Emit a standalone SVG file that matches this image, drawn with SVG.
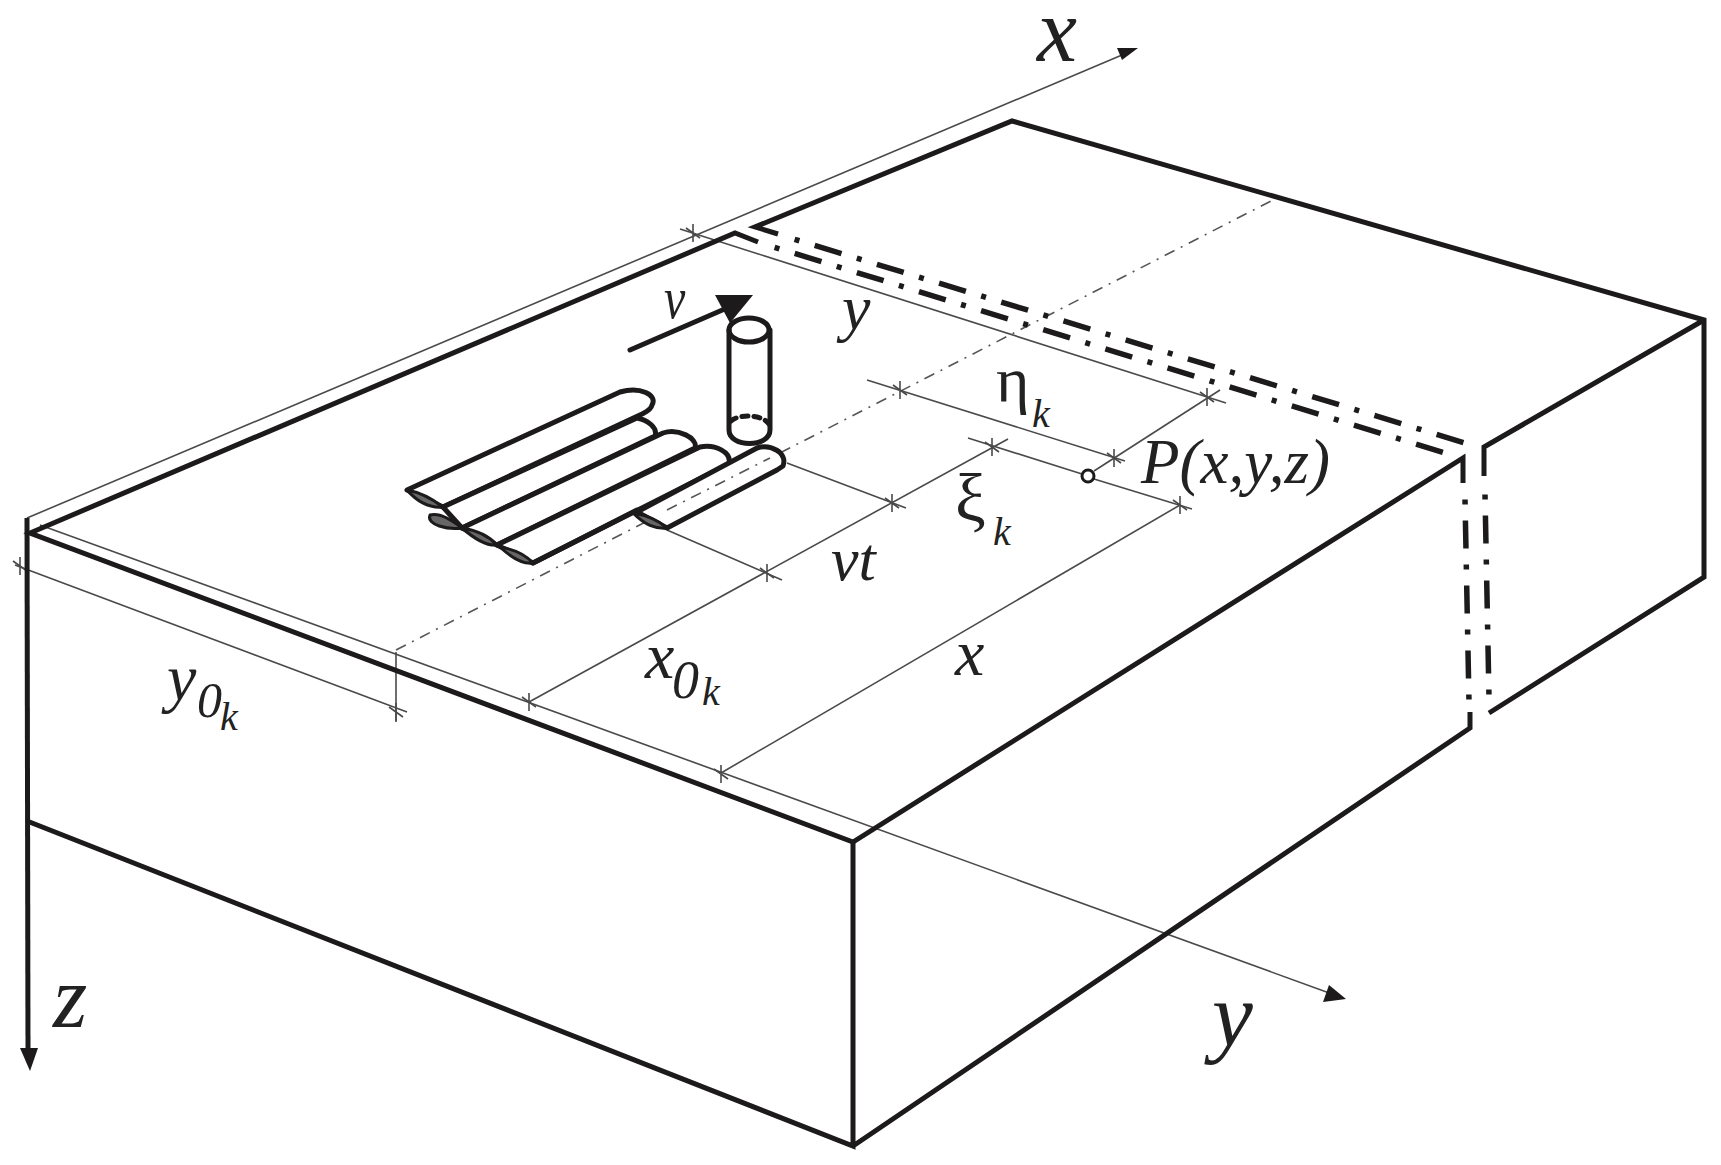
<svg xmlns="http://www.w3.org/2000/svg" width="1721" height="1165" viewBox="0 0 1721 1165">
<style>
.t{fill:none;stroke:#1c1a1a;stroke-width:5;stroke-linecap:butt;stroke-linejoin:miter}
.m{fill:none;stroke:#1c1a1a;stroke-width:5;stroke-linecap:round;stroke-linejoin:round}
.n{fill:none;stroke:#4a4a4a;stroke-width:1.6}
.d{fill:none;stroke:#1c1a1a;stroke-width:5.5;stroke-dasharray:5 16 28 16}
.c{fill:none;stroke:#555;stroke-width:1.6;stroke-dasharray:11 7 2 7}
.a{fill:#1c1a1a}
.l{font-family:"Liberation Serif",serif;font-style:italic;fill:#222}
.g{font-family:"Liberation Serif",serif;fill:#222}
.s{fill:#fff;stroke:#1c1a1a;stroke-width:5;stroke-linejoin:round}
.e{fill:#666;stroke:#1c1a1a;stroke-width:3;stroke-linejoin:round}
</style>
<defs>
<path id="tick" d="M-7 -5L7 5M0 -9V9" stroke="#4a4a4a" stroke-width="1.6" fill="none"/>
</defs>
<rect width="1721" height="1165" fill="#fff"/>
<g id="connectors">
<path class="n" d="M27 518L1122 55"/>
<path class="a" d="M1138 48L1117 48L1122 60Z"/>
<path class="n" d="M40 525L1332 994"/>
<path class="a" d="M1346 999L1323 1002L1329 985Z"/>
<path class="n" d="M15 565L407 712M396 652V722"/>
<path class="c" d="M396 650L1273 200"/>
<path class="n" d="M529 702L1008 439"/>
<path class="n" d="M721 773L1180 505"/>
<path class="n" d="M787 463L906 508M667 530L782 580"/>
<path class="n" d="M968 438L1082 474M1094 479L1192 509"/>
<path class="n" d="M867 380L1125 461"/>
<path class="n" d="M1094 471L1220 390"/>
<path class="n" d="M680 229L1226 403"/>
<use href="#tick" x="693" y="233"/>
<use href="#tick" x="20" y="566"/>
<use href="#tick" x="396" y="712"/>
<use href="#tick" x="529" y="702"/>
<use href="#tick" x="721" y="774"/>
<use href="#tick" x="767" y="573"/>
<use href="#tick" x="892" y="503"/>
<use href="#tick" x="900" y="390"/>
<use href="#tick" x="992" y="447"/>
<use href="#tick" x="1114" y="458"/>
<use href="#tick" x="1180" y="505"/>
<use href="#tick" x="1207" y="397"/>
</g>
<g id="block">
<path class="t" d="M758 242L735 233L30 533L853 842L1463 458V483"/>
<path class="t" d="M778 234L755 227L1012 121L1704 320V577L1489 713"/>
<path class="t" d="M1704 320L1484 447V476"/>
<path class="t" d="M27 518L28 1050"/>
<path class="a" d="M30 1071L20 1048H38Z"/>
<path class="t" d="M27 821L853 1146V842M853 1146L1470 728V712"/>
<path class="d" d="M794.6 239.3L1465 443"/>
<path class="d" d="M774.6 247.3L1445 453"/>
<path class="d" d="M1465 499.5L1469 702"/>
<path class="d" d="M1485 494.5L1489 697"/>
</g>
<g id="strips">
<path class="s" d="M407 490L620 392C640 386 658 395 652 405C651 410 646 412 642 414L443 507Z"/>
<path class="e" d="M407 490C420 505 432 508 443 507C430 497 418 492 407 490Z"/>
<path class="s" d="M443 507L637 418C648 420 658 428 655 436L462 528Z"/>
<path class="e" d="M430 515C440 512 452 520 462 528C448 530 426 525 430 515Z"/>
<path class="s" d="M462 528L663 433C678 428 698 438 695 448L497 545Z"/>
<path class="e" d="M462 528C478 542 488 546 497 545C488 535 475 530 462 528Z"/>
<path class="s" d="M497 545L700 447C715 444 732 452 729 464L533 563Z"/>
<path class="e" d="M500 547C515 561 525 564 533 563C524 553 512 549 500 547Z"/>
<path class="s" d="M637 512L757 448C770 444 788 452 783 466L777 470L667 528Z"/>
<path class="e" d="M633 513C645 525 655 529 667 528C657 519 645 515 633 513Z"/>
<path class="m" d="M533 563L637 510"/>
<path class="c" d="M667 510L770 458"/>
</g>
<g id="tool">
<path class="m" d="M630 350L727 308"/>
<path class="a" d="M715 295H753L730 323Z"/>
<ellipse class="m" cx="749" cy="330" rx="20" ry="12"/>
<path class="m" d="M729 330V430C729 448 770 448 770 430V330"/>
<path class="m" stroke-dasharray="6 6" d="M731 421C738 414 762 414 769 424"/>
</g>
<g id="labels">
<text class="l" x="1037" y="61" font-size="90">x</text>
<text class="l" x="1212" y="1046" font-size="92">y</text>
<text class="l" x="53" y="1027" font-size="88">z</text>
<text class="l" transform="translate(664 318) scale(.8 1)" font-size="60">v</text>
<text class="l" x="842" y="329" font-size="64">y</text>
<text class="g" x="996" y="401" font-size="64">η</text>
<text class="l" x="1032" y="427" font-size="40">k</text>
<text class="g" transform="translate(955 521) scale(1.15 1.13)" font-size="60">ξ</text>
<text class="l" x="993" y="545" font-size="40">k</text>
<text class="l" x="1141" y="483" font-size="63">P(x,y,z)</text>
<text class="l" x="831" y="580" font-size="62">vt</text>
<text class="l" x="955" y="675" font-size="66">x</text>
<text class="l" x="645" y="678" font-size="66">x</text>
<text class="l" x="672" y="698" font-size="54">0</text>
<text class="l" x="702" y="705" font-size="40">k</text>
<text class="l" x="167" y="700" font-size="66">y</text>
<text class="l" x="197" y="717" font-size="50">0</text>
<text class="l" x="220" y="730" font-size="40">k</text>
</g>
<circle cx="1088" cy="476" r="6" fill="#fff" stroke="#1c1a1a" stroke-width="3"/>
</svg>
